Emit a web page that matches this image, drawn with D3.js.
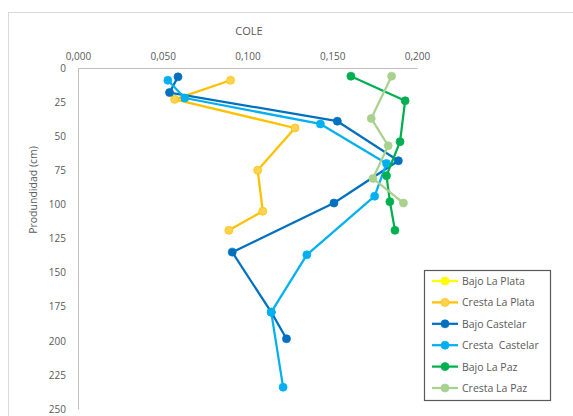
<!DOCTYPE html>
<html>
<head>
<meta charset="utf-8">
<script src="https://cdn.jsdelivr.net/npm/d3@7"></script>
<style>
  html, body { margin: 0; padding: 0; background: #fff; }
  svg { display: block; font-family: "Open Sans", "Noto Sans", sans-serif; }
  text { fill: #595959; }
</style>
</head>
<body>
<svg id="chart" width="573" height="416"></svg>
<script>
// COLE by depth for each site (x = COLE, y = depth in cm)
const seriesNames = ["Bajo La Plata", "Cresta La Plata", "Bajo Castelar", "Cresta  Castelar", "Bajo La Paz", "Cresta La Paz"];

const bajoLaPlataCole = [];
const bajoLaPlataDepth = [];

const crestaLaPlataCole = [0.090, 0.057, 0.128, 0.106, 0.109, 0.089];
const crestaLaPlataDepth = [9, 23, 44, 75, 105, 119];

const bajoCastelarCole = [0.059, 0.054, 0.153, 0.189, 0.151, 0.091, 0.114, 0.123];
const bajoCastelarDepth = [6.5, 18, 39, 68, 99, 135, 179, 198.5];

const crestaCastelarCole = [0.053, 0.063, 0.143, 0.182, 0.175, 0.135, 0.114, 0.121];
const crestaCastelarDepth = [9, 22, 41, 70, 94, 137, 179, 234];

const bajoLaPazCole = [0.161, 0.193, 0.190, 0.182, 0.184, 0.187];
const bajoLaPazDepth = [6, 24, 54, 79, 98, 119];

const crestaLaPazCole = [0.185, 0.173, 0.183, 0.174, 0.192];
const crestaLaPazDepth = [6, 37, 57, 81, 99];

const xTicks = [0, 0.05, 0.1, 0.15, 0.2];
const yTicks = [0, 25, 50, 75, 100, 125, 150, 175, 200, 225, 250];

const lineColors = ["#FFFF00", "#FFC000", "#0070C0", "#00B0F0", "#00B050", "#A9D18E"];
const markerFills = ["#FFFF00", "#FFD34F", "#0070C0", "#00B0F0", "#00B050", "#A9D18E"];

const coleArrays = [bajoLaPlataCole, crestaLaPlataCole, bajoCastelarCole, crestaCastelarCole, bajoLaPazCole, crestaLaPazCole];
const depthArrays = [bajoLaPlataDepth, crestaLaPlataDepth, bajoCastelarDepth, crestaCastelarDepth, bajoLaPazDepth, crestaLaPazDepth];

const series = seriesNames.map((name, i) => ({
  name,
  color: lineColors[i],
  fill: markerFills[i],
  points: coleArrays[i].map((c, j) => ({ x: c, y: depthArrays[i][j] }))
}));

const svg = d3.select("#chart");

// outer chart frame
svg.append("rect")
  .attr("x", 8.5).attr("y", 12.5)
  .attr("width", 570).attr("height", 420)
  .attr("fill", "none").attr("stroke", "#D9D9D9").attr("stroke-width", 1);

const plot = { left: 78, right: 417, top: 68, bottom: 409 };

const x = d3.scaleLinear().domain([0, 0.2]).range([plot.left, plot.right]);
const y = d3.scaleLinear().domain([0, 250]).range([plot.top, plot.bottom]);

const fmt = d => d3.format(".3f")(d).replace(".", ",");

// top value axis
const xAxis = svg.append("g")
  .attr("transform", `translate(0,${plot.top})`)
  .call(d3.axisTop(x).tickValues(xTicks).tickFormat(fmt).tickSize(0).tickPadding(8));
xAxis.select(".domain").attr("stroke", "#BFBFBF").attr("stroke-width", 1);
xAxis.selectAll("text").attr("font-size", 10).attr("fill", "#595959").attr("font-family", "'Open Sans', sans-serif");

// left depth axis
const yAxis = svg.append("g")
  .attr("transform", `translate(${plot.left},0)`)
  .call(d3.axisLeft(y).tickValues(yTicks).tickFormat(d3.format("d")).tickSize(0).tickPadding(12));
yAxis.select(".domain").attr("stroke", "#BFBFBF").attr("stroke-width", 1);
yAxis.selectAll("text").attr("font-size", 10).attr("fill", "#595959").attr("font-family", "'Open Sans', sans-serif");

// axis titles
svg.append("text")
  .attr("x", 249).attr("y", 35)
  .attr("text-anchor", "middle")
  .attr("font-size", 11)
  .text("COLE");

svg.append("text")
  .attr("transform", "translate(37,190) rotate(-90)")
  .attr("text-anchor", "middle")
  .attr("font-size", 10.5)
  .text("Produndidad (cm)");

// series lines and markers
const line = d3.line().x(d => x(d.x)).y(d => y(d.y));

const g = svg.append("g");
series.forEach(s => {
  if (!s.points.length) return;
  g.append("path")
    .datum(s.points)
    .attr("d", line)
    .attr("fill", "none")
    .attr("stroke", s.color)
    .attr("stroke-width", 2.25)
    .attr("stroke-linejoin", "round");
  g.selectAll(null)
    .data(s.points)
    .join("circle")
    .attr("cx", d => x(d.x))
    .attr("cy", d => y(d.y))
    .attr("r", 4)
    .attr("fill", s.fill)
    .attr("stroke", s.color)
    .attr("stroke-width", 0.75);
});

// legend
const legend = svg.append("g");
legend.append("rect")
  .attr("x", 424.5).attr("y", 270.5)
  .attr("width", 126).attr("height", 130)
  .attr("fill", "#fff").attr("stroke", "#595959").attr("stroke-width", 1.2);

const legendY = d3.scalePoint().domain(seriesNames).range([281, 388]);

series.forEach(s => {
  const ly = legendY(s.name);
  legend.append("line")
    .attr("x1", 432).attr("x2", 458)
    .attr("y1", ly).attr("y2", ly)
    .attr("stroke", s.color).attr("stroke-width", 2.25);
  legend.append("circle")
    .attr("cx", 445).attr("cy", ly).attr("r", 4)
    .attr("fill", s.fill).attr("stroke", s.color).attr("stroke-width", 0.75);
  legend.append("text")
    .attr("x", 462).attr("y", ly + 4)
    .attr("font-size", 10.5)
    .attr("xml:space", "preserve")
    .text(s.name);
});
</script>
</body>
</html>
